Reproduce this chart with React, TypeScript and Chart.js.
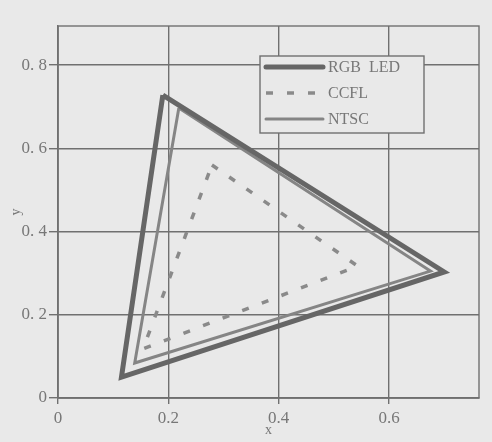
import { useEffect, useRef } from "react";
import { Chart, registerables } from "chart.js";

Chart.register(...registerables);

// CIE 1931 xy gamut triangles (last point repeats the first to close it)
const rgbLedX = [0.19, 0.7, 0.115, 0.19];
const rgbLedY = [0.728, 0.303, 0.05, 0.728];
const ccflX = [0.279, 0.543, 0.154, 0.279];
const ccflY = [0.56, 0.317, 0.118, 0.56];
const ntscX = [0.219, 0.675, 0.139, 0.219];
const ntscY = [0.697, 0.305, 0.084, 0.697];

const xTicks = [0, 0.2, 0.4, 0.6];
const xTickLabels = ["0", "0.2", "0.4", "0.6"];
const yTicks = [0, 0.2, 0.4, 0.6, 0.8];
const yTickLabels = ["0", "0. 2", "0. 4", "0. 6", "0. 8"];

const BG = "#e9e9e9";
const GRID = "#707070";
const TEXT = "#777777";
const SERIF = "'Liberation Serif', 'DejaVu Serif', serif";

const toPoints = (xs: number[], ys: number[]) => xs.map((x, i) => ({ x, y: ys[i] }));

const frameBox = {
  id: "frameBox",
  beforeDatasetsDraw(chart: any) {
    const { ctx, chartArea: a } = chart;
    ctx.save();
    ctx.strokeStyle = GRID;
    ctx.lineWidth = 1.4;
    ctx.strokeRect(a.left, a.top, a.right - a.left, a.bottom - a.top);
    ctx.restore();
  },
};

const boxLegend = {
  id: "boxLegend",
  afterDatasetsDraw(chart: any) {
    const { ctx, chartArea: a } = chart;
    const left = a.left + 202;
    const top = a.top + 30;
    const w = 164;
    const h = 77;
    ctx.save();
    ctx.fillStyle = BG;
    ctx.fillRect(left, top, w, h);
    ctx.strokeStyle = GRID;
    ctx.lineWidth = 1.4;
    ctx.strokeRect(left, top, w, h);
    ctx.font = `16px ${SERIF}`;
    ctx.textBaseline = "middle";
    chart.data.datasets.forEach((ds: any, i: number) => {
      const y = top + 11 + i * 26;
      ctx.beginPath();
      ctx.strokeStyle = ds.borderColor;
      ctx.lineWidth = ds.borderWidth;
      ctx.lineCap = ds.borderDash ? "butt" : "round";
      ctx.setLineDash(ds.borderDash || []);
      ctx.moveTo(left + 6, y);
      ctx.lineTo(left + 63, y);
      ctx.stroke();
      ctx.setLineDash([]);
      ctx.fillStyle = TEXT;
      ctx.fillText(ds.label, left + 68, y + 1);
    });
    ctx.restore();
  },
};

export default function App() {
  const canvasRef = useRef<HTMLCanvasElement>(null);

  useEffect(() => {
    if (!canvasRef.current) return;
    const chart = new Chart(canvasRef.current, {
      type: "scatter",
      data: {
        datasets: [
          {
            label: "RGB  LED",
            data: toPoints(rgbLedX, rgbLedY),
            showLine: true,
            borderColor: "#666666",
            borderWidth: 5,
            pointRadius: 0,
          },
          {
            label: "CCFL",
            data: toPoints(ccflX, ccflY),
            showLine: true,
            borderColor: "#8a8a8a",
            borderWidth: 3.5,
            borderDash: [7, 14],
            pointRadius: 0,
          },
          {
            label: "NTSC",
            data: toPoints(ntscX, ntscY),
            showLine: true,
            borderColor: "#858585",
            borderWidth: 3,
            pointRadius: 0,
          },
        ],
      },
      options: {
        animation: false,
        responsive: false,
        maintainAspectRatio: false,
        layout: { padding: { top: 26, right: 13, left: 0, bottom: 0 } },
        plugins: {
          legend: { display: false },
          tooltip: { enabled: false },
        },
        scales: {
          x: {
            type: "linear",
            min: 0,
            max: 0.763,
            afterBuildTicks: (s: any) => {
              s.ticks = xTicks.map((v) => ({ value: v }));
            },
            afterFit: (s: any) => {
              s.height = 44;
            },
            ticks: {
              callback: (_v: any, i: number) => xTickLabels[i],
              color: TEXT,
              font: { family: SERIF, size: 17 },
              padding: 4,
              maxRotation: 0,
            },
            grid: { color: GRID, lineWidth: 1.4, tickLength: 6 },
            border: { color: GRID, width: 1.4 },
            title: {
              display: true,
              text: "x",
              color: TEXT,
              font: { family: SERIF, size: 14 },
              padding: { top: 0, bottom: 3 },
            },
          },
          y: {
            type: "linear",
            min: 0,
            max: 0.894,
            afterBuildTicks: (s: any) => {
              s.ticks = yTicks.map((v) => ({ value: v }));
            },
            afterFit: (s: any) => {
              s.width = 58;
            },
            ticks: {
              callback: (_v: any, i: number) => yTickLabels[i],
              color: TEXT,
              font: { family: SERIF, size: 17 },
              padding: 2,
            },
            grid: { color: GRID, lineWidth: 1.4, tickLength: 9 },
            border: { color: GRID, width: 1.4 },
            title: {
              display: true,
              text: "y",
              color: TEXT,
              font: { family: SERIF, size: 14 },
              padding: { top: 8, bottom: 0 },
            },
          },
        },
      },
      plugins: [frameBox, boxLegend],
    });
    return () => chart.destroy();
  }, []);

  return (
    <div
      style={{
        position: "absolute",
        left: 0,
        top: 0,
        width: 492,
        height: 442,
        background: BG,
      }}
    >
      <canvas ref={canvasRef} width={492} height={442} />
    </div>
  );
}
